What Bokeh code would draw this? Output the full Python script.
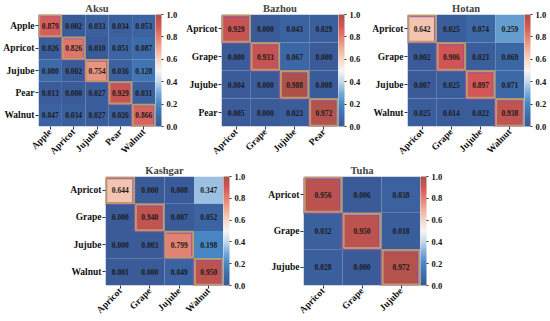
import math
import numpy as np
from bokeh.plotting import figure
from bokeh.models import (ColumnDataSource, LinearColorMapper, ColorBar, FixedTicker,
                          FactorRange, Spacer, PrintfTickFormatter)
from bokeh.layouts import row, column
from bokeh.transform import transform, dodge
from bokeh.core.properties import value
from bokeh.embed import file_html
from bokeh.resources import INLINE

# ---------------- data ----------------
aksu_labels = ["Apple", "Apricot", "Jujube", "Pear", "Walnut"]
aksu_values = [
    [0.879, 0.002, 0.033, 0.034, 0.053],
    [0.026, 0.826, 0.010, 0.051, 0.087],
    [0.080, 0.002, 0.754, 0.036, 0.128],
    [0.013, 0.000, 0.027, 0.929, 0.031],
    [0.047, 0.034, 0.027, 0.026, 0.866],
]
bazhou_labels = ["Apricot", "Grape", "Jujube", "Pear"]
bazhou_values = [
    [0.929, 0.000, 0.043, 0.029],
    [0.000, 0.933, 0.067, 0.000],
    [0.004, 0.000, 0.988, 0.008],
    [0.005, 0.000, 0.023, 0.972],
]
hotan_labels = ["Apricot", "Grape", "Jujube", "Walnut"]
hotan_values = [
    [0.642, 0.025, 0.074, 0.259],
    [0.002, 0.906, 0.023, 0.069],
    [0.007, 0.025, 0.897, 0.071],
    [0.025, 0.014, 0.022, 0.938],
]
kashgar_labels = ["Apricot", "Grape", "Jujube", "Walnut"]
kashgar_values = [
    [0.644, 0.000, 0.008, 0.347],
    [0.000, 0.940, 0.007, 0.052],
    [0.000, 0.003, 0.799, 0.198],
    [0.001, 0.000, 0.049, 0.950],
]
tuha_labels = ["Apricot", "Grape", "Jujube"]
tuha_values = [
    [0.956, 0.006, 0.038],
    [0.032, 0.950, 0.018],
    [0.028, 0.000, 0.972],
]
colorbar_ticks = [0.0, 0.2, 0.4, 0.6, 0.8, 1.0]

# ---------------- colour map (style) ----------------
anchor_pos = [0.0, 0.1, 0.2, 0.3, 0.4, 0.5, 0.6, 0.7, 0.8, 0.9, 1.0]
anchor_rgb = [(58, 90, 152), (62, 110, 172), (72, 136, 196), (122, 172, 216),
              (196, 217, 236), (247, 246, 246), (246, 214, 198), (240, 174, 150),
              (226, 130, 114), (212, 86, 86), (168, 82, 74)]
_t = np.linspace(0, 1, 256)
_ch = [np.interp(_t, anchor_pos, [c[i] for c in anchor_rgb]) for i in range(3)]
palette = ["#%02x%02x%02x" % (int(r), int(g), int(b)) for r, g, b in zip(*_ch)]

SERIF = "Liberation Serif"


def make_panel(title, labels, values, fw, fh):
    xs, ys, vs, txt = [], [], [], []
    dx, dy = [], []
    for i, rlab in enumerate(labels):
        for j, clab in enumerate(labels):
            xs.append(clab)
            ys.append(rlab)
            vs.append(values[i][j])
            txt.append("%.3f" % values[i][j])
            if i == j:
                dx.append(clab)
                dy.append(rlab)
    src = ColumnDataSource(dict(x=xs, y=ys, v=vs, t=txt))
    dsrc = ColumnDataSource(dict(x=dx, y=dy))
    mapper = LinearColorMapper(palette=palette, low=0.0, high=1.0)

    p = figure(frame_width=fw, frame_height=fh, output_backend="svg", toolbar_location=None,
               x_range=FactorRange(factors=list(labels)),
               y_range=FactorRange(factors=list(reversed(labels))),
               min_border_left=0, min_border_right=0,
               min_border_top=0, min_border_bottom=0,
               title=title)
    p.rect(x="x", y="y", width=1, height=1, source=src,
           fill_color=transform("v", mapper), line_color=None)
    # highlight frames of the diagonal (correct) cells
    p.rect(x=dodge("x", -0.035, range=p.x_range), y=dodge("y", -0.035, range=p.y_range),
           width=0.95, height=0.95, source=dsrc,
           fill_color=None, line_color="#8c4fa6", line_width=2, line_alpha=0.85)
    p.rect(x="x", y="y", width=0.94, height=0.94, source=dsrc,
           fill_color=None, line_color="#b99a6e", line_width=2)
    p.text(x="x", y="y", text="t", source=src, text_align="center",
           text_baseline="middle", text_font=value(SERIF), text_font_style="bold",
           text_font_size="7.5px", text_color="#1a1a1a")

    p.title.align = "center"
    p.title.text_font = SERIF
    p.title.text_font_size = "10.5px"
    p.title.text_font_style = "bold"
    p.title.standoff = 1
    p.title.offset = 0

    p.grid.grid_line_color = None
    p.outline_line_color = None
    for ax in (p.xaxis, p.yaxis):
        ax.axis_line_color = None
        ax.major_tick_line_color = "#333333"
        ax.major_tick_out = 3
        ax.major_tick_in = 0
        ax.minor_tick_line_color = None
        ax.major_label_text_font = SERIF
        ax.major_label_text_font_style = "bold"
        ax.major_label_text_font_size = "9.5px"
        ax.major_label_text_color = "#111111"
        ax.major_label_standoff = 1
    p.xaxis.major_label_orientation = math.pi / 4

    cb = ColorBar(color_mapper=mapper, ticker=FixedTicker(ticks=colorbar_ticks),
                  formatter=PrintfTickFormatter(format="%.1f"),
                  width=6, padding=0, margin=6, location=(0, 0),
                  label_standoff=3, major_tick_out=2, major_tick_in=0,
                  major_tick_line_color="#333333", bar_line_color=None,
                  major_label_text_font=SERIF, major_label_text_font_style="bold",
                  major_label_text_font_size="8.5px",
                  major_label_text_color="#111111")
    p.add_layout(cb, "right")
    return p


f_aksu = make_panel("Aksu", aksu_labels, aksu_values, 117, 112)
f_baz = make_panel("Bazhou", bazhou_labels, bazhou_values, 117, 112)
f_hot = make_panel("Hotan", hotan_labels, hotan_values, 117, 112)
f_kas = make_panel("Kashgar", kashgar_labels, kashgar_values, 118, 109)
f_tuh = make_panel("Tuha", tuha_labels, tuha_values, 117, 109)

layout = column(
    row(f_aksu, Spacer(width=3), f_baz, Spacer(width=6), f_hot),
    row(Spacer(width=67), f_kas, Spacer(width=17), f_tuh),
)

open("out.html", "w").write(file_html(layout, INLINE))
